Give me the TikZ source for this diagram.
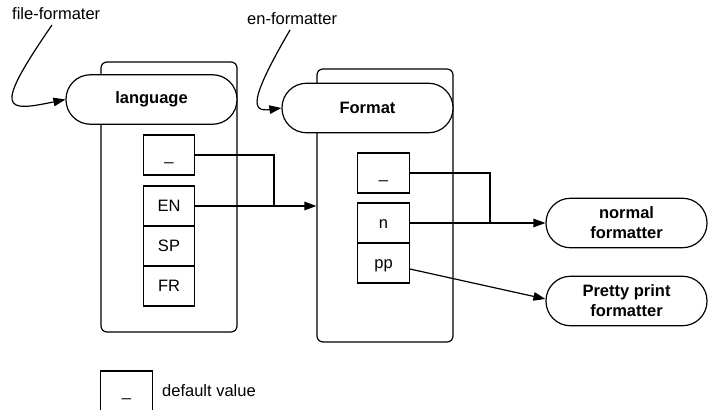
\documentclass[tikz,border=0pt]{standalone}
\usepackage{fontspec}
\setmainfont{Liberation Sans}
\usetikzlibrary{arrows.meta,calc}
\begin{document}
\begin{tikzpicture}[x=1pt,y=-1pt,
  every node/.style={font=\fontsize{16.5}{20}\selectfont},
  container/.style={draw,line width=1.2pt,rounded corners=6pt,inner sep=0pt},
  stadium/.style={draw,line width=1.2pt,fill=white,rounded corners=24.5pt,inner sep=0pt,
    minimum height=49.5pt,align=center,font=\fontsize{16.5}{20}\selectfont\bfseries},
  valbox/.style={draw,line width=1.2pt,fill=white,inner sep=0pt,minimum width=51.5pt,
    minimum height=40pt,text height=11.5pt,text depth=0pt},
  lbl/.style={inner sep=0pt,anchor=west},
  conn/.style={line width=1.2pt},
  arr/.style={line width=1.2pt,-{Triangle[length=12pt,width=8.5pt]}}
]
\useasboundingbox (0,0) rectangle (708,409);
\clip (0,0) rectangle (708,409);

% language
\node[container,minimum width=136pt,minimum height=270pt] (langC) at (169,197) {};
\node[stadium,minimum width=171pt] (lang) at (151.5,99.5) {language};
\node[valbox] (ld) at (169,155) {\_};
\node[valbox] (en) at (169,206) {EN};
\node[valbox] (sp) at (169,246) {SP};
\node[valbox] (fr) at (169,286) {FR};

% format
\node[container,minimum width=136pt,minimum height=273pt] (fmtC) at (385,205.5) {};
\node[stadium,minimum width=171pt] (fmt) at (367.5,108) {Format};
\node[valbox] (fd) at (383.5,173) {\_};
\node[valbox] (nn) at (383.5,223) {n};
\node[valbox] (pp) at (383.5,263) {pp};

% targets
\node[stadium,minimum width=161pt] (normal) at (626.5,223) {normal\\formatter};
\node[stadium,minimum width=161pt] (pretty) at (626.5,301) {Pretty print\\formatter};

% labels
\node[lbl] (fflbl) at (12,14) {file-formater};
\node[lbl] (eflbl) at (247,19) {en-formatter};
\coordinate (ffstart) at (52,25);
\coordinate (efstart) at (290,30);

\draw[arr] (ffstart) .. controls (-8,112) and (5,112) .. (lang.west);
\draw[arr] (efstart) .. controls (248,102) and (252,112) .. (fmt.west);

% connectors
\coordinate (j1) at (274,206);
\draw[conn] (ld.east) -| (j1);
\draw[arr] (en.east) -- (en.east -| fmtC.west);
\coordinate (j2) at (490,223);
\draw[conn] (fd.east) -| (j2);
\draw[arr] (nn.east) -- (normal.west);
\draw[arr] ([yshift=-6pt]pp.east) -- ([yshift=2pt]pretty.west);

% legend
\node[valbox] (leg) at (126.5,391) {\_};
\node[lbl] (legtxt) at (162,391) {default value};
\end{tikzpicture}
\end{document}
